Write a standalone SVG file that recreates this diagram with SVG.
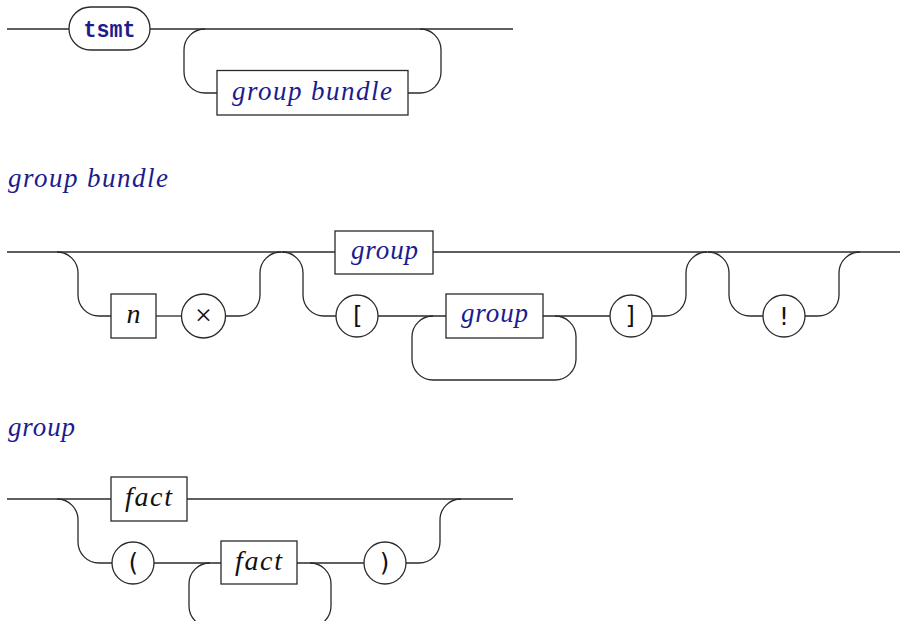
<svg xmlns="http://www.w3.org/2000/svg" width="901" height="621" viewBox="0 0 901 621">
  <style>
    .wire { fill: none; stroke: #2a2a2a; stroke-width: 1.3; }
    .node { fill: #ffffff; stroke: #2a2a2a; stroke-width: 1.3; }
    .nt { font-family: "Liberation Serif", "Times New Roman", serif; font-style: italic; font-size: 27px; fill: #1c1c8e; }
    .head { font-family: "Liberation Serif", "Times New Roman", serif; font-style: italic; font-size: 27px; fill: #1c1c8e; }
    .kw { font-family: "Liberation Mono", "DejaVu Sans Mono", monospace; font-weight: bold; font-size: 23px; fill: #1c1c8e; }
    .tok { font-family: "DejaVu Sans Mono", "Liberation Mono", monospace; font-size: 24px; fill: #111111; }
    .var { font-family: "Liberation Serif", "Times New Roman", serif; font-style: italic; font-size: 28px; fill: #111111; }
    .sym { font-family: "Liberation Serif", "Times New Roman", serif; font-size: 30px; fill: #111111; }
  </style>

  <!-- rule: tsmt -->
  <g id="connectors-tsmt">
    <path class="wire" d="M7,29 H69"/>
    <path class="wire" d="M150,29 H513"/>
    <path class="wire" d="M205,29 A21,21 0 0 0 184,50 V72 A21,21 0 0 0 205,93 H217"/>
    <path class="wire" d="M408,93 H420 A21,21 0 0 0 441,72 V50 A21,21 0 0 0 420,29"/>
  </g>
  <g id="tsmt-kw">
    <rect class="node" x="69" y="7" width="81" height="43" rx="21.5" ry="21.5"/>
    <text class="kw" x="109.5" y="37" text-anchor="middle" textLength="52" lengthAdjust="spacingAndGlyphs">tsmt</text>
  </g>
  <g id="tsmt-group-bundle">
    <rect class="node" x="217" y="70.5" width="191" height="44.5"/>
    <text class="nt" x="232" y="100" textLength="160" lengthAdjust="spacing">group bundle</text>
  </g>

  <!-- rule: group bundle -->
  <text class="head" x="8" y="187" textLength="160" lengthAdjust="spacing">group bundle</text>
  <g id="connectors-group-bundle">
    <path class="wire" d="M7,252 H335"/>
    <path class="wire" d="M433,252 H900"/>
    <!-- optional count prefix -->
    <path class="wire" d="M57,252 A21,21 0 0 1 78,273 V295 A21,21 0 0 0 99,316 H111"/>
    <path class="wire" d="M156,316 H181"/>
    <path class="wire" d="M226,316 H239 A21,21 0 0 0 260,295 V273 A21,21 0 0 1 281,252"/>
    <!-- bracketed group list -->
    <path class="wire" d="M282,252 A21,21 0 0 1 303,273 V295 A21,21 0 0 0 324,316 H336"/>
    <path class="wire" d="M378,316 H446"/>
    <path class="wire" d="M543,316 H610"/>
    <path class="wire" d="M433,316 A21,21 0 0 0 412,337 V359 A21,21 0 0 0 433,380 H555 A21,21 0 0 0 576,359 V337 A21,21 0 0 0 555,316"/>
    <path class="wire" d="M652,316 H665 A21,21 0 0 0 686,295 V273 A21,21 0 0 1 707,252"/>
    <!-- optional bang -->
    <path class="wire" d="M708,252 A21,21 0 0 1 729,273 V295 A21,21 0 0 0 750,316 H763"/>
    <path class="wire" d="M805,316 H818 A21,21 0 0 0 839,295 V273 A21,21 0 0 1 860,252"/>
  </g>
  <g id="gb-group">
    <rect class="node" x="335" y="231" width="98" height="43"/>
    <text class="nt" x="351" y="259" textLength="67" lengthAdjust="spacing">group</text>
  </g>
  <g id="gb-n">
    <rect class="node" x="111" y="294" width="45" height="44"/>
    <text class="var" x="133.5" y="323" text-anchor="middle">n</text>
  </g>
  <g id="gb-times">
    <circle class="node" cx="203.5" cy="316" r="22"/>
    <text class="sym" x="203.5" y="325" text-anchor="middle">×</text>
  </g>
  <g id="gb-lbrack">
    <circle class="node" cx="357" cy="316" r="21"/>
    <text class="tok" x="357" y="324" text-anchor="middle">[</text>
  </g>
  <g id="gb-group-list">
    <rect class="node" x="446" y="294" width="97" height="44"/>
    <text class="nt" x="461" y="322" textLength="67" lengthAdjust="spacing">group</text>
  </g>
  <g id="gb-rbrack">
    <circle class="node" cx="631" cy="316" r="21"/>
    <text class="tok" x="631" y="324" text-anchor="middle">]</text>
  </g>
  <g id="gb-bang">
    <circle class="node" cx="784" cy="316" r="21"/>
    <text class="tok" x="784" y="325" text-anchor="middle">!</text>
  </g>

  <!-- rule: group -->
  <text class="head" x="8" y="436" textLength="67" lengthAdjust="spacing">group</text>
  <g id="connectors-group">
    <path class="wire" d="M7,499 H111"/>
    <path class="wire" d="M187,499 H513"/>
    <path class="wire" d="M57,499 A21,21 0 0 1 78,520 V542 A21,21 0 0 0 99,563 H112"/>
    <path class="wire" d="M154,563 H221"/>
    <path class="wire" d="M297,563 H364"/>
    <path class="wire" d="M210,563 A21,21 0 0 0 189,584 V606 A21,21 0 0 0 210,627 H310 A21,21 0 0 0 331,606 V584 A21,21 0 0 0 310,563"/>
    <path class="wire" d="M406,563 H419 A21,21 0 0 0 440,542 V520 A21,21 0 0 1 461,499"/>
  </g>
  <g id="g-fact">
    <rect class="node" x="111" y="477" width="76" height="44"/>
    <text class="var" x="125" y="506" textLength="47" lengthAdjust="spacing">fact</text>
  </g>
  <g id="g-lparen">
    <circle class="node" cx="133" cy="563" r="21"/>
    <text class="tok" x="133" y="571" text-anchor="middle">(</text>
  </g>
  <g id="g-fact-list">
    <rect class="node" x="221" y="541" width="76" height="43"/>
    <text class="var" x="235" y="570" textLength="47" lengthAdjust="spacing">fact</text>
  </g>
  <g id="g-rparen">
    <circle class="node" cx="385" cy="563" r="21"/>
    <text class="tok" x="385" y="571" text-anchor="middle">)</text>
  </g>
</svg>
